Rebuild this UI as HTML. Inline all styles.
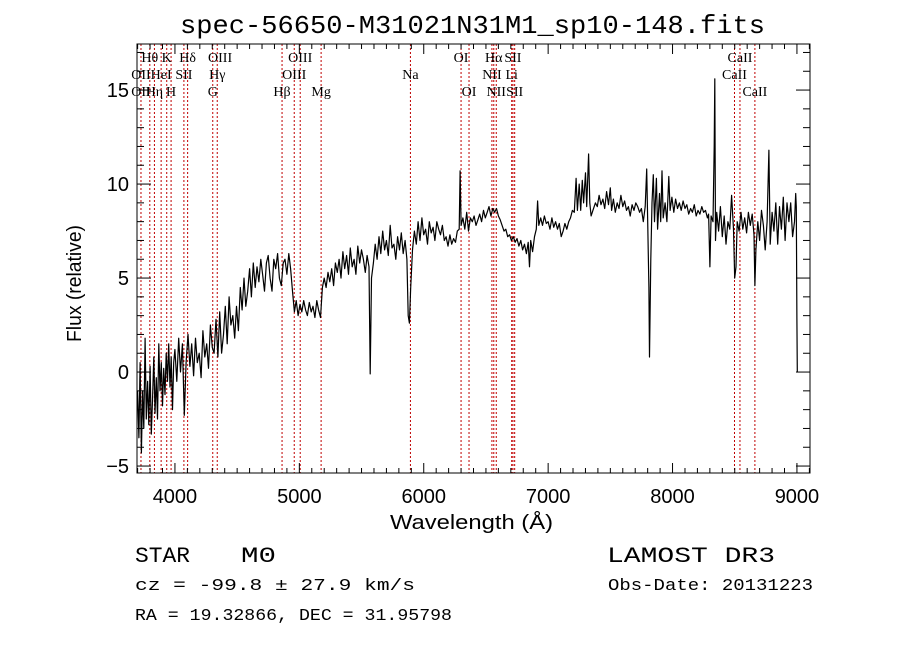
<!DOCTYPE html>
<html><head><meta charset="utf-8">
<style>
html,body{margin:0;padding:0;background:#fff;width:900px;height:649px;overflow:hidden}
svg text{font-family:"Liberation Serif",serif;fill:#000}
svg text.mono{font-family:"Liberation Mono",monospace}
svg text.sans{font-family:"Liberation Sans",sans-serif}
</style></head>
<body>
<svg id="chart" width="900" height="649" viewBox="0 0 900 649" xmlns="http://www.w3.org/2000/svg">
<rect width="900" height="649" fill="#fff"/>
<text class="mono" x="180" y="33" font-size="26" textLength="585" lengthAdjust="spacingAndGlyphs">spec-56650-M31021N31M1_sp10-148.fits</text>
<g id="lines"></g>
<g id="labels"></g>
<path id="spec" fill="none" stroke="#000" stroke-width="1.2" stroke-linejoin="round"/>
<g id="axes"></g>
<text class="sans" x="390" y="529" font-size="20" textLength="163" lengthAdjust="spacingAndGlyphs">Wavelength (Å)</text>
<text class="sans" transform="translate(81,342) rotate(-90)" font-size="20" textLength="117" lengthAdjust="spacingAndGlyphs">Flux (relative)</text>
<g>
<text class="mono" x="135" y="562" font-size="22" textLength="55" lengthAdjust="spacingAndGlyphs">STAR</text>
<text class="mono" x="241" y="562" font-size="22" textLength="35" lengthAdjust="spacingAndGlyphs">M0</text>
<text class="mono" x="607" y="562" font-size="22" textLength="168" lengthAdjust="spacingAndGlyphs">LAMOST DR3</text>
<text class="mono" x="135" y="590" font-size="17" textLength="280" lengthAdjust="spacingAndGlyphs">cz = -99.8 ± 27.9 km/s</text>
<text class="mono" x="608" y="590" font-size="17" textLength="205" lengthAdjust="spacingAndGlyphs">Obs-Date: 20131223</text>
<text class="mono" x="135" y="620" font-size="17" textLength="317" lengthAdjust="spacingAndGlyphs">RA =  19.32866, DEC =  31.95798</text>
</g>
</svg>
<script>
const waves=[3700,3710,3720,3730,3740,3750,3760,3770,3780,3790,3800,3810,3820,3830,3840,3850,3860,3870,3880,3890,3900,3910,3920,3930,3940,3950,3960,3970,3980,3990,4000,4015,4030,4045,4060,4075,4090,4105,4120,4135,4150,4165,4180,4195,4210,4225,4240,4255,4270,4285,4300,4315,4330,4345,4360,4375,4390,4405,4420,4435,4450,4465,4480,4495,4510,4525,4540,4555,4570,4585,4600,4615,4630,4645,4660,4675,4690,4705,4720,4735,4750,4765,4780,4795,4810,4825,4840,4855,4870,4885,4900,4915,4930,4945,4960,4975,4990,5005,5020,5035,5050,5065,5080,5095,5110,5125,5140,5155,5170,5185,5200,5215,5230,5245,5260,5275,5290,5305,5320,5335,5350,5365,5380,5395,5410,5425,5440,5455,5470,5485,5500,5515,5530,5545,5560,5570,5580,5595,5610,5625,5640,5655,5670,5685,5700,5715,5730,5745,5760,5775,5790,5805,5820,5835,5850,5865,5875,5885,5895,5910,5925,5940,5955,5970,5985,6000,6015,6030,6045,6060,6075,6090,6105,6120,6135,6150,6165,6180,6195,6210,6225,6240,6255,6270,6285,6292,6300,6315,6330,6345,6360,6375,6390,6405,6420,6435,6450,6465,6480,6495,6510,6525,6540,6555,6570,6585,6600,6615,6630,6645,6660,6675,6690,6705,6720,6735,6750,6765,6780,6795,6810,6825,6840,6850,6860,6875,6890,6905,6915,6925,6940,6955,6970,6985,7000,7015,7030,7045,7060,7075,7090,7105,7120,7135,7150,7165,7180,7195,7210,7225,7235,7250,7262,7275,7285,7300,7310,7325,7335,7345,7360,7380,7395,7410,7425,7440,7455,7470,7485,7500,7510,7525,7540,7555,7570,7585,7600,7615,7630,7645,7660,7675,7690,7705,7720,7735,7750,7765,7780,7792,7800,7810,7815,7825,7835,7845,7855,7870,7880,7895,7905,7915,7925,7940,7955,7970,7980,7995,8010,8025,8040,8055,8070,8085,8100,8115,8130,8145,8160,8175,8190,8205,8220,8235,8250,8265,8280,8290,8300,8310,8325,8335,8340,8345,8355,8370,8385,8400,8415,8430,8445,8460,8475,8490,8500,8510,8520,8535,8550,8565,8580,8595,8610,8625,8640,8655,8662,8670,8685,8700,8715,8730,8745,8760,8775,8785,8800,8815,8830,8845,8860,8875,8890,8905,8920,8935,8950,8965,8980,8990,8995,9000,9003];
const fluxes=[-1,-3.5,0.5,-4.3,-1,-3,1.8,-2.5,-0.5,-2.8,0.3,-3.3,-1.5,0.8,-2.2,-0.3,-2.5,1.5,-1,0.5,-1.8,0.2,-1.2,1.0,-0.5,1.5,-0.8,0.8,-2.0,0.5,1.2,-0.5,1.8,0,1.5,-2.3,0.5,2.0,0.3,1.5,-0.2,1.8,0.5,1.0,-0.3,2.2,0.8,1.5,0.2,2.5,1.3,1.0,2.8,0.8,3.2,1.0,2.0,3.5,1.5,4.0,2.5,3.0,1.8,3.5,2.2,4.5,3.3,5.0,3.5,4.3,5.5,4.0,5.8,4.5,5.6,4.8,6.0,5.2,4.3,5.8,6.2,5.0,4.3,6.0,5.5,6.3,5.0,4.6,5.8,6.0,5.2,6.3,5.5,4.3,3.2,3.8,3.0,3.6,3.2,3.8,3.3,3.0,3.7,3.2,3.5,2.9,3.8,3.3,2.9,4.5,5.0,4.5,5.3,4.8,5.5,4.6,5.8,5.3,6.0,5.0,6.4,5.5,6.2,5.2,6.6,5.6,6.0,5.2,6.7,5.8,6.5,6.0,5.3,6.2,5.6,-0.1,5.0,5.8,6.8,6.0,7.2,6.3,7.5,6.5,7.0,6.2,7.8,6.6,6.8,6.0,7.2,6.5,7.4,6.3,7.0,6.0,3.0,2.6,4.5,6.5,7.5,6.8,8.0,7.0,8.2,7.3,7.6,6.8,8.0,7.4,7.7,7.0,8.0,7.6,7.3,7.8,7.0,7.2,6.7,7.3,6.8,7.1,6.9,7.5,7.6,10.7,7.8,8.2,7.6,8.5,7.5,8.2,8.0,8.3,7.8,8.1,8.4,8.0,8.6,8.2,8.5,8.8,8.3,8.7,8.5,8.7,8.3,8.1,7.8,7.5,7.6,7.2,7.3,7.0,7.2,6.9,7.1,6.7,7.0,6.5,6.8,6.3,6.9,5.6,7.0,6.4,7.2,7.6,9.1,7.8,8.2,7.8,8.3,7.9,8.0,7.6,8.2,7.7,8.0,7.6,7.9,7.2,7.5,7.9,7.6,8.0,8.2,8.6,8.5,10.3,8.6,10.0,8.6,10.2,9.0,10.6,8.8,11.6,9.0,8.3,8.6,9.0,8.8,9.4,8.9,9.2,8.7,9.6,8.9,9.8,8.6,9.2,8.5,9.0,8.7,9.4,8.8,9.1,8.6,8.8,8.3,8.9,8.6,9.0,8.8,8.5,8.7,8.0,8.8,10.8,8.0,4.5,0.8,6.0,9.0,10.5,8.0,10.3,7.6,9.5,8.0,10.7,8.2,9.0,8.0,10.4,8.6,9.3,8.5,9.2,8.7,9.0,8.6,9.1,8.7,8.9,8.4,8.7,8.5,8.9,8.3,8.6,8.4,8.8,8.5,8.6,8.2,8.4,5.6,8.3,8.0,12.0,15.6,7.0,8.5,7.5,8.8,7.2,8.3,6.8,8.0,7.6,9.4,7.6,5.0,5.6,8.0,7.5,8.5,7.6,8.2,7.4,8.5,7.8,8.4,7.3,4.6,6.5,8.0,7.0,8.6,7.8,6.5,8.0,11.8,6.8,8.5,7.5,9.0,6.8,8.8,7.6,9.3,7.0,9.0,8.0,9.0,7.2,8.0,9.5,8.8,2.8,0.0];
const lineWaves=[3727,3798,3835,3889,3934,3969,4072,4102,4304,4340,4861,4959,5007,5175,5893,6300,6364,6548,6563,6583,6707,6717,6731,8498,8542,8662];
const labelText=["Hθ","K","Hδ","OIII","OIII","OI","Hα","SII","CaII","OII","HeI","SII","Hγ","OIII","Na","NII","Li","CaII","OII","Hη","H","G","Hβ","Mg","OI","NII","SII","CaII"];
const labelWave=[3798,3934,4102,4363,5007,6300,6563,6717,8542,3727,3889,4072,4340,4959,5893,6548,6707,8498,3727,3835,3969,4304,4861,5175,6364,6583,6731,8662];
const labelRow=[0,0,0,0,0,0,0,0,0,1,1,1,1,1,1,1,1,1,2,2,2,2,2,2,2,2,2,2];
const xTicks=[4000,5000,6000,7000,8000,9000];
const yTicks=[-5,0,5,10,15];

const L=137,R=810,T=44,B=473;
const xMin=3695,xMax=9105,yMin=-5.37,yMax=17.45;
const X=w=>L+(w-xMin)/(xMax-xMin)*(R-L);
const Y=f=>B-(f-yMin)/(yMax-yMin)*(B-T);
const NS="http://www.w3.org/2000/svg";
function mk(tag,parent,attrs){const e=document.createElementNS(NS,tag);for(const k in attrs)e.setAttribute(k,attrs[k]);parent.appendChild(e);return e;}

const lg=document.getElementById('lines');
lineWaves.forEach(w=>{
  const l=mk('line',lg,{x1:X(w),x2:X(w),y1:T,y2:B,stroke:'#c00000','stroke-width':1,'stroke-dasharray':'2,2'});
  
  
});
const lb=document.getElementById('labels');
const rowY=[62,79,96];
labelText.forEach((t,i)=>{
  const e=mk('text',lb,{x:X(labelWave[i]),y:rowY[labelRow[i]],'font-size':14,'text-anchor':'middle'});
  e.textContent=t;
  
  
});

let d='';
waves.forEach((w,i)=>{d+=(i?'L':'M')+X(w).toFixed(1)+','+Y(Math.max(yMin,Math.min(yMax,fluxes[i]))).toFixed(1);});
document.getElementById('spec').setAttribute('d',d);

const ax=document.getElementById('axes');
const frame=mk('rect',ax,{x:L,y:T,width:R-L,height:B-T,fill:'none',stroke:'#000','stroke-width':1});


for(let w=3700;w<=9100;w+=100){
  const major=w%1000===0, len=major?10:5;
  mk('line',ax,{x1:X(w),x2:X(w),y1:B,y2:B-len,stroke:'#000'});
  mk('line',ax,{x1:X(w),x2:X(w),y1:T,y2:T+len,stroke:'#000'});
}
for(let f=-5;f<=17;f+=1){
  const major=f%5===0, len=major?14:7;
  mk('line',ax,{x1:L,x2:L+len,y1:Y(f),y2:Y(f),stroke:'#000'});
  mk('line',ax,{x1:R,x2:R-len,y1:Y(f),y2:Y(f),stroke:'#000'});
}
xTicks.forEach(w=>{
  const t=mk('text',ax,{x:X(w),y:503,'font-size':20,'text-anchor':'middle','class':'sans'});
  t.textContent=String(w);
  
  
});
yTicks.forEach(f=>{
  const t=mk('text',ax,{x:129,y:Y(f)+7,'font-size':20,'text-anchor':'end','class':'sans'});
  t.textContent=f<0?'\u2212'+Math.abs(f):String(f);
  
  
});
</script>
</body></html>
